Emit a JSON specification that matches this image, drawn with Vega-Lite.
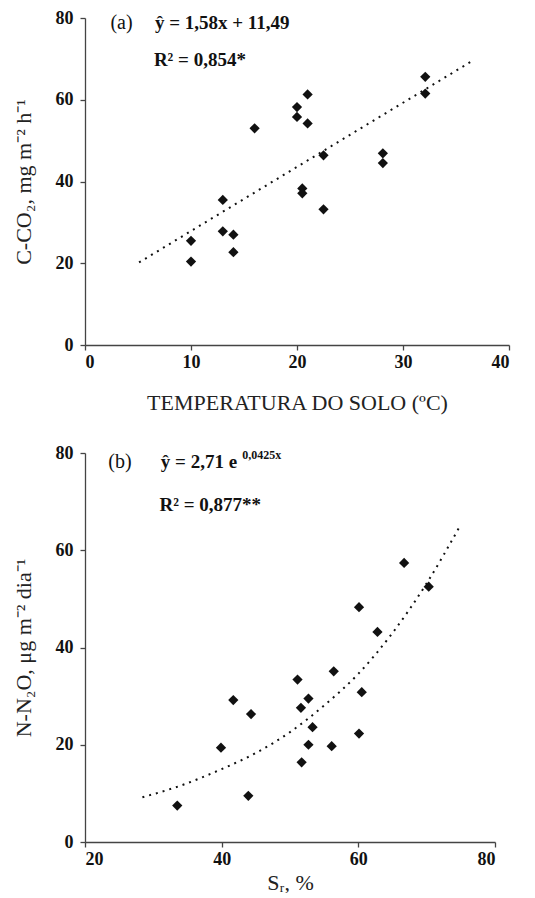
{
  "$schema": "https://vega.github.io/schema/vega-lite/v6.json",
  "background": "white",
  "padding": {"left": 12, "top": 9, "right": 10, "bottom": 0},
  "spacing": 31,
  "config": {
    "view": {"stroke": null},
    "font": "Liberation Serif",
    "text": {"font": "Liberation Serif"},
    "axis": {
      "grid": false,
      "domainColor": "#444",
      "domainWidth": 1.3,
      "tickColor": "#444",
      "tickWidth": 1.3,
      "tickSize": 5,
      "labelFont": "Liberation Serif",
      "labelFontWeight": "bold",
      "labelFontSize": 18,
      "labelColor": "#111",
      "labelPadding": 3,
      "titleFont": "Liberation Serif",
      "titleFontWeight": "normal",
      "titleFontSize": 22,
      "titleColor": "#222"
    },
    "axisY": {"labelPadding": 7}
  },
  "vconcat": [
    {
      "width": 424,
      "height": 327,
      "layer": [
        {
          "data": {"values": [
            {"t": 10, "c": 25.5}, {"t": 10, "c": 20.4}, {"t": 13, "c": 35.5}, {"t": 13, "c": 27.8},
            {"t": 14, "c": 27.0}, {"t": 14, "c": 22.7}, {"t": 16, "c": 53.0}, {"t": 20, "c": 58.2},
            {"t": 20, "c": 55.8}, {"t": 21, "c": 61.3}, {"t": 21, "c": 54.2}, {"t": 20.5, "c": 38.3},
            {"t": 20.5, "c": 37.1}, {"t": 22.5, "c": 46.4}, {"t": 22.5, "c": 33.2}, {"t": 28.1, "c": 46.9},
            {"t": 28.1, "c": 44.5}, {"t": 32.1, "c": 65.6}, {"t": 32.1, "c": 61.5}
          ]},
          "mark": {"type": "point", "shape": "diamond", "filled": true, "color": "#111", "size": 105, "opacity": 1},
          "encoding": {
            "x": {"field": "t", "type": "quantitative", "scale": {"domain": [0, 40], "nice": false},
                  "axis": {"values": [0, 10, 20, 30, 40], "title": "TEMPERATURA DO SOLO (ºC)", "titlePadding": 21}},
            "y": {"field": "c", "type": "quantitative", "scale": {"domain": [0, 80], "nice": false},
                  "axis": {"values": [0, 20, 40, 60, 80], "title": "C-CO₂, mg m⁻² h⁻¹", "titlePadding": 20}}
          }
        },
        {
          "data": {"values": [{"t": 5.1, "c": 20.2}, {"t": 36.4, "c": 69.3}]},
          "mark": {"type": "line", "color": "#111", "strokeWidth": 2, "strokeDash": [2, 5]},
          "encoding": {
            "x": {"field": "t", "type": "quantitative"},
            "y": {"field": "c", "type": "quantitative"}
          }
        },
        {
          "data": {"values": [{"t": 2.4, "c": 77.2, "label": "(a)"}]},
          "mark": {"type": "text", "align": "left", "baseline": "alphabetic", "color": "#111", "fontSize": 20, "fontWeight": "normal"},
          "encoding": {
            "x": {"field": "t", "type": "quantitative"},
            "y": {"field": "c", "type": "quantitative"},
            "text": {"field": "label"}
          }
        },
        {
          "data": {"values": [
            {"t": 6.6, "c": 77.2, "label": "ŷ  = 1,58x + 11,49"},
            {"t": 6.5, "c": 68.3, "label": "R² = 0,854*"}
          ]},
          "mark": {"type": "text", "align": "left", "baseline": "alphabetic", "color": "#111", "fontSize": 19, "fontWeight": "bold"},
          "encoding": {
            "x": {"field": "t", "type": "quantitative"},
            "y": {"field": "c", "type": "quantitative"},
            "text": {"field": "label"}
          }
        }
      ]
    },
    {
      "width": 410,
      "height": 389,
      "layer": [
        {
          "data": {"values": [
            {"s": 33.5, "n": 7.5}, {"s": 39.9, "n": 19.4}, {"s": 41.7, "n": 29.2}, {"s": 43.9, "n": 9.5},
            {"s": 44.3, "n": 26.3}, {"s": 51.1, "n": 33.4}, {"s": 51.6, "n": 27.6}, {"s": 51.7, "n": 16.4},
            {"s": 52.7, "n": 29.5}, {"s": 52.7, "n": 20.0}, {"s": 53.3, "n": 23.6}, {"s": 56.1, "n": 19.7},
            {"s": 56.4, "n": 35.1}, {"s": 60.1, "n": 48.3}, {"s": 60.1, "n": 22.3}, {"s": 60.5, "n": 30.8},
            {"s": 62.8, "n": 43.2}, {"s": 66.7, "n": 57.4}, {"s": 70.3, "n": 52.5}
          ]},
          "mark": {"type": "point", "shape": "diamond", "filled": true, "color": "#111", "size": 105, "opacity": 1},
          "encoding": {
            "x": {"field": "s", "type": "quantitative", "scale": {"domain": [20, 80], "nice": false},
                  "axis": {"values": [20, 40, 60, 80], "title": "Sᵣ, %", "titlePadding": 4}},
            "y": {"field": "n", "type": "quantitative", "scale": {"domain": [0, 80], "nice": false},
                  "axis": {"values": [0, 20, 40, 60, 80], "title": "N-N₂O, μg m⁻² dia⁻¹", "titlePadding": 20}}
          }
        },
        {
          "data": {"values": [
            {"s": 28.4, "n": 9.2}, {"s": 34, "n": 11.6}, {"s": 40, "n": 15.0}, {"s": 45, "n": 18.3},
            {"s": 50, "n": 22.6}, {"s": 55, "n": 28.1}, {"s": 60, "n": 34.6}, {"s": 65, "n": 43.0},
            {"s": 70, "n": 53.2}, {"s": 75, "n": 65.3}
          ]},
          "mark": {"type": "line", "color": "#111", "strokeWidth": 2, "strokeDash": [2, 5], "interpolate": "monotone"},
          "encoding": {
            "x": {"field": "s", "type": "quantitative"},
            "y": {"field": "n", "type": "quantitative"}
          }
        },
        {
          "data": {"values": [{"s": 23.4, "n": 77.0, "label": "(b)"}]},
          "mark": {"type": "text", "align": "left", "baseline": "alphabetic", "color": "#111", "fontSize": 20, "fontWeight": "normal"},
          "encoding": {
            "x": {"field": "s", "type": "quantitative"},
            "y": {"field": "n", "type": "quantitative"},
            "text": {"field": "label"}
          }
        },
        {
          "data": {"values": [
            {"s": 31.1, "n": 77.0, "label": "ŷ  = 2,71 e"},
            {"s": 30.9, "n": 68.0, "label": "R² = 0,877**"}
          ]},
          "mark": {"type": "text", "align": "left", "baseline": "alphabetic", "color": "#111", "fontSize": 19, "fontWeight": "bold"},
          "encoding": {
            "x": {"field": "s", "type": "quantitative"},
            "y": {"field": "n", "type": "quantitative"},
            "text": {"field": "label"}
          }
        },
        {
          "data": {"values": [{"s": 43.0, "n": 77.0, "label": "0,0425x"}]},
          "mark": {"type": "text", "align": "left", "baseline": "alphabetic", "color": "#111", "fontSize": 12, "fontWeight": "bold", "dy": -9},
          "encoding": {
            "x": {"field": "s", "type": "quantitative"},
            "y": {"field": "n", "type": "quantitative"},
            "text": {"field": "label"}
          }
        }
      ]
    }
  ]
}
